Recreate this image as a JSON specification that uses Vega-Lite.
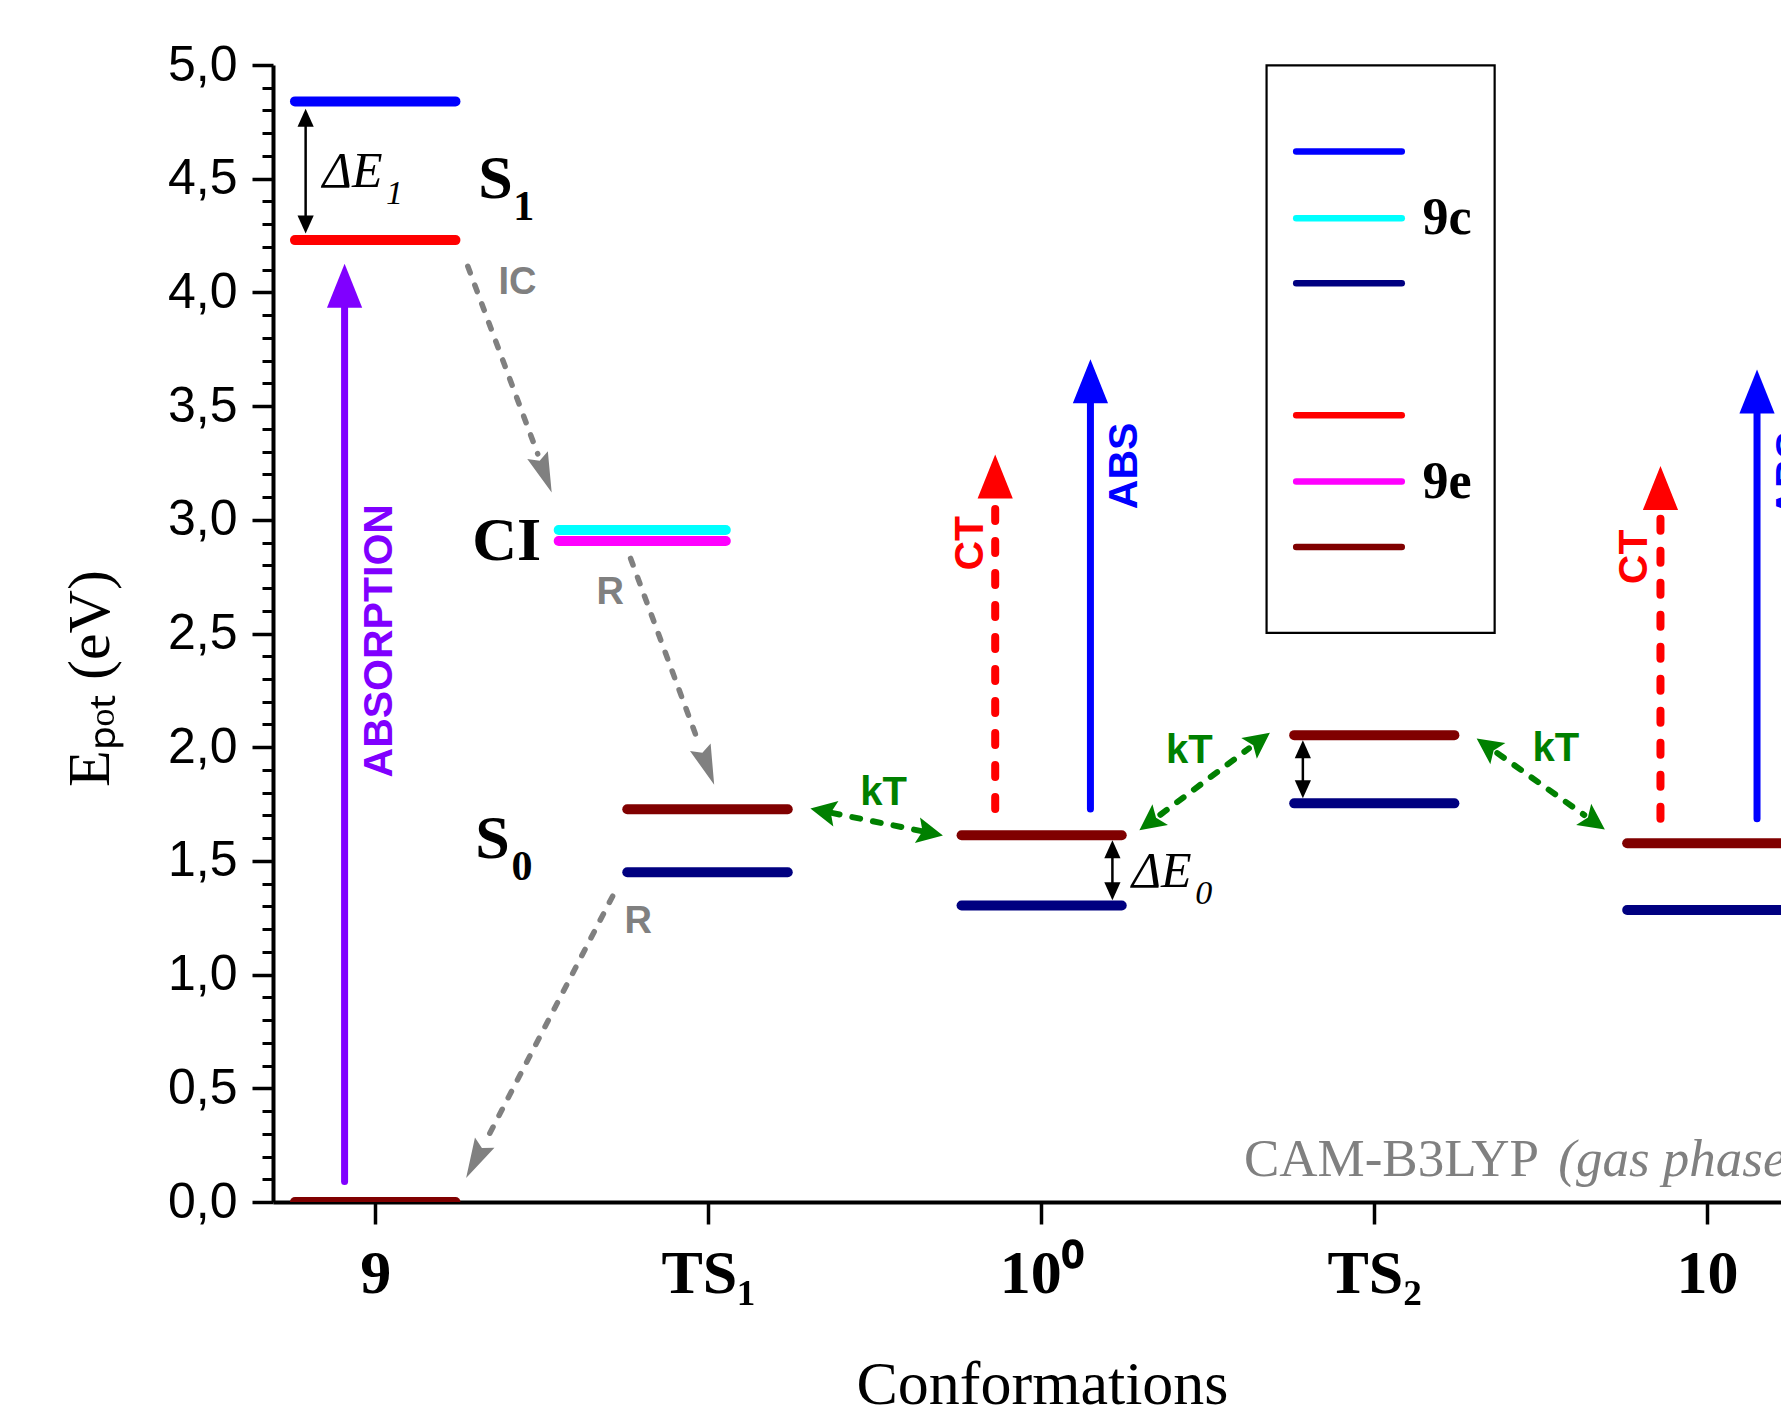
{
  "$schema": "https://vega.github.io/schema/vega-lite/v6.json",
  "width": 1508,
  "height": 1137,
  "autosize": {"type": "none"},
  "padding": {"left": 273, "top": 65, "right": 0, "bottom": 210},
  "background": "white",
  "config": {"view": {"stroke": null}, "axis": {"zindex": 1, "grid": false}},
  "resolve": {"axis": {"x": "independent", "y": "independent"}},
  "datasets": {
    "levels": [
      {"conf": "9", "state": "9c S1", "x1": 0.759, "x2": 1.241, "e": 4.84},
      {"conf": "9", "state": "9e S1", "x1": 0.759, "x2": 1.241, "e": 4.23},
      {"conf": "9", "state": "9e S0", "x1": 0.759, "x2": 1.241, "e": 0.0},
      {"conf": "CI", "state": "9c CI", "x1": 1.551, "x2": 2.053, "e": 2.955},
      {"conf": "CI", "state": "9e CI", "x1": 1.551, "x2": 2.053, "e": 2.907},
      {"conf": "TS1", "state": "9e S0", "x1": 1.757, "x2": 2.239, "e": 1.727},
      {"conf": "TS1", "state": "9c S0", "x1": 1.757, "x2": 2.239, "e": 1.45},
      {"conf": "10o", "state": "9e S0", "x1": 2.761, "x2": 3.242, "e": 1.613},
      {"conf": "10o", "state": "9c S0", "x1": 2.761, "x2": 3.242, "e": 1.304},
      {"conf": "TS2", "state": "9e S0", "x1": 3.76, "x2": 4.241, "e": 2.053},
      {"conf": "TS2", "state": "9c S0", "x1": 3.76, "x2": 4.241, "e": 1.753},
      {"conf": "10", "state": "9e S0", "x1": 4.76, "x2": 5.24, "e": 1.578},
      {"conf": "10", "state": "9c S0", "x1": 4.76, "x2": 5.24, "e": 1.284}
    ],
    "legendBox": [{"x1": 3.677, "x2": 4.362, "y1": 2.503, "y2": 4.998}],
    "legendLines": [
      {"state": "9c S1", "y": 4.62},
      {"state": "9c CI", "y": 4.326},
      {"state": "9c S0", "y": 4.04},
      {"state": "9e S1", "y": 3.46},
      {"state": "9e CI", "y": 3.168},
      {"state": "9e S0", "y": 2.88}
    ],
    "legendLabels": [
      {"t": "9c", "x": 4.145, "y": 4.326},
      {"t": "9e", "x": 4.145, "y": 3.168}
    ],
    "solidShafts": [
      {"kind": "absorption", "x": 0.908, "y": 0.09, "y2": 3.96},
      {"kind": "abs", "x": 3.148, "y": 1.728, "y2": 3.53},
      {"kind": "abs", "x": 5.15, "y": 1.685, "y2": 3.49}
    ],
    "ctShafts": [
      {"kind": "ct", "x": 2.862, "y": 1.728, "y2": 3.12},
      {"kind": "ct", "x": 4.86, "y": 1.685, "y2": 3.07}
    ],
    "bigHeads": [
      {"kind": "absorption", "x": 0.908, "y": 4.126},
      {"kind": "abs", "x": 3.148, "y": 3.706},
      {"kind": "abs", "x": 5.15, "y": 3.661},
      {"kind": "ct", "x": 2.862, "y": 3.287},
      {"kind": "ct", "x": 4.86, "y": 3.237}
    ],
    "grayShafts": [
      {"path": "IC", "x": 1.278, "y": 4.115, "x2": 1.488, "y2": 3.29},
      {"path": "R1", "x": 1.767, "y": 2.83, "x2": 1.975, "y2": 2.005},
      {"path": "R2", "x": 1.713, "y": 1.345, "x2": 1.332, "y2": 0.268}
    ],
    "grayHeads": [
      {"path": "IC", "x": 1.53, "y": 3.12, "deg": 159.3},
      {"path": "R1", "x": 2.018, "y": 1.835, "deg": 159.7},
      {"path": "R2", "x": 1.273, "y": 0.105, "deg": 207.7}
    ],
    "greenShafts": [
      {"path": "kT1", "x": 2.371, "y": 1.711, "x2": 2.641, "y2": 1.631},
      {"path": "kT2", "x": 3.358, "y": 1.703, "x2": 3.624, "y2": 1.995},
      {"path": "kT3", "x": 4.37, "y": 1.974, "x2": 4.631, "y2": 1.702}
    ],
    "greenHeads": [
      {"path": "kT1", "x": 2.307, "y": 1.73, "deg": 281.4},
      {"path": "kT1", "x": 2.705, "y": 1.612, "deg": 101.4},
      {"path": "kT2", "x": 3.295, "y": 1.635, "deg": 233.3},
      {"path": "kT2", "x": 3.687, "y": 2.063, "deg": 53.3},
      {"path": "kT3", "x": 4.308, "y": 2.038, "deg": 305.4},
      {"path": "kT3", "x": 4.693, "y": 1.638, "deg": 125.4}
    ],
    "blackShafts": [
      {"gap": "dE1", "x": 0.791, "y": 4.29, "y2": 4.78},
      {"gap": "dE0", "x": 3.214, "y": 1.36, "y2": 1.56},
      {"gap": "TS2", "x": 3.786, "y": 1.8, "y2": 2.0}
    ],
    "blackHeads": [
      {"gap": "dE1", "x": 0.791, "y": 4.808, "deg": 0},
      {"gap": "dE1", "x": 0.791, "y": 4.259, "deg": 180},
      {"gap": "dE0", "x": 3.214, "y": 1.591, "deg": 0},
      {"gap": "dE0", "x": 3.214, "y": 1.327, "deg": 180},
      {"gap": "TS2", "x": 3.786, "y": 2.031, "deg": 0},
      {"gap": "TS2", "x": 3.786, "y": 1.775, "deg": 180}
    ],
    "stateMain": [
      {"t": "S", "x": 1.361, "y": 4.417},
      {"t": "CI", "x": 1.395, "y": 2.822},
      {"t": "S", "x": 1.352, "y": 1.512}
    ],
    "stateSub": [
      {"t": "1", "x": 1.446, "y": 4.317},
      {"t": "0", "x": 1.441, "y": 1.415}
    ],
    "deltaMain": [
      {"t": "ΔE", "x": 0.842, "y": 4.463},
      {"t": "ΔE", "x": 3.272, "y": 1.385}
    ],
    "deltaSub": [
      {"t": "1", "x": 1.058, "y": 4.387},
      {"t": "0", "x": 3.488, "y": 1.309}
    ],
    "grayLabels": [
      {"t": "IC", "x": 1.427, "y": 4.04},
      {"t": "R", "x": 1.706, "y": 2.68},
      {"t": "R", "x": 1.79, "y": 1.231}
    ],
    "kTLabels": [
      {"t": "kT", "x": 2.527, "y": 1.8},
      {"t": "kT", "x": 3.445, "y": 1.983},
      {"t": "kT", "x": 4.546, "y": 1.993}
    ],
    "vertLabels": [
      {"t": "ABSORPTION", "kind": "absorption", "x": 1.015, "y": 2.468},
      {"t": "CT", "kind": "ct", "x": 2.79, "y": 2.897},
      {"t": "ABS", "kind": "abs", "x": 3.251, "y": 3.237},
      {"t": "CT", "kind": "ct", "x": 4.785, "y": 2.837},
      {"t": "ABS", "kind": "abs", "x": 5.255, "y": 3.2}
    ],
    "methodPlain": [{"t": "CAM-B3LYP", "x": 3.609, "y": 0.115}],
    "methodItalic": [{"t": "(gas phase)", "x": 4.553, "y": 0.115}]
  },
  "layer": [
    {
      "data": {"name": "legendBox"},
      "mark": {"type": "rect", "fill": "white", "stroke": "black", "strokeWidth": 2.2},
      "encoding": {
        "x": {"field": "x1", "type": "quantitative", "scale": {"domain": [0.693, 5.222], "nice": false, "zero": false}, "axis": null},
        "x2": {"field": "x2"},
        "y": {"field": "y1", "type": "quantitative", "scale": {"domain": [0, 5], "nice": false, "zero": false}, "axis": null},
        "y2": {"field": "y2"}
      }
    },
    {
      "data": {"name": "legendLines"},
      "mark": {"type": "rule", "strokeWidth": 6.5, "strokeCap": "round"},
      "encoding": {
        "x": {"datum": 3.766, "type": "quantitative", "scale": {"domain": [0.693, 5.222], "nice": false, "zero": false}, "axis": null},
        "x2": {"datum": 4.083},
        "y": {"field": "y", "type": "quantitative", "scale": {"domain": [0, 5], "nice": false, "zero": false}, "axis": null},
        "color": {"field": "state", "type": "nominal", "legend": null,
          "scale": {"domain": ["9c S1", "9c CI", "9c S0", "9e S1", "9e CI", "9e S0", "absorption", "abs", "ct"],
                    "range": ["#0000FF", "#00FFFF", "#000080", "#FF0000", "#FF00FF", "#800000", "#8000FF", "#0000FF", "#FF0000"]}}
      }
    },
    {
      "data": {"name": "legendLabels"},
      "mark": {"type": "text", "font": "Liberation Serif", "fontWeight": "bold", "fontSize": 52, "align": "left", "baseline": "middle", "color": "black"},
      "encoding": {
        "x": {"field": "x", "type": "quantitative", "scale": {"domain": [0.693, 5.222], "nice": false, "zero": false}, "axis": null},
        "y": {"field": "y", "type": "quantitative", "scale": {"domain": [0, 5], "nice": false, "zero": false}, "axis": null},
        "text": {"field": "t"}
      }
    },
    {
      "data": {"name": "levels"},
      "mark": {"type": "rule", "strokeWidth": 10, "strokeCap": "round", "clip": true},
      "encoding": {
        "x": {"field": "x1", "type": "quantitative", "scale": {"domain": [0.693, 5.222], "nice": false, "zero": false},
          "axis": {"orient": "bottom", "values": [1, 2, 3, 4, 5],
            "labelExpr": "datum.value == 1 ? '9' : datum.value == 2 ? 'TS₁' : datum.value == 3 ? '10⁰' : datum.value == 4 ? 'TS₂' : '10'",
            "labelFont": "Liberation Serif", "labelFontSize": 62, "labelFontWeight": "bold", "labelColor": "black",
            "labelBaseline": "alphabetic", "labelPadding": 68, "labelFlush": false, "labelOverlap": false,
            "tickSize": 22, "tickWidth": 3.5, "tickColor": "black", "domainWidth": 4, "domainColor": "black",
            "title": "Conformations", "titleFont": "Liberation Serif", "titleFontSize": 62, "titleFontWeight": "normal", "titleColor": "black",
            "titleX": 769, "titleY": 201, "titleAlign": "center", "titleBaseline": "alphabetic"}},
        "x2": {"field": "x2"},
        "y": {"field": "e", "type": "quantitative", "scale": {"domain": [0, 5], "nice": false, "zero": false},
          "axis": {"orient": "left", "values": [0, 0.5, 1, 1.5, 2, 2.5, 3, 3.5, 4, 4.5, 5],
            "labelExpr": "replace(format(datum.value, '.1f'), '.', ',')",
            "labelFont": "Liberation Sans", "labelFontSize": 50, "labelColor": "black", "labelPadding": 15, "labelFlush": false, "labelOverlap": false,
            "tickSize": 21, "tickWidth": 3.5, "tickColor": "black", "domainWidth": 4, "domainColor": "black",
            "title": "Eₚₒₜ (eV)", "titleFont": "Liberation Serif", "titleFontSize": 60, "titleFontWeight": "normal", "titleColor": "black",
            "titleAngle": 270, "titleX": -183, "titleY": 613, "titleAlign": "center", "titleBaseline": "middle"}},
        "color": {"field": "state", "type": "nominal", "legend": null,
          "scale": {"domain": ["9c S1", "9c CI", "9c S0", "9e S1", "9e CI", "9e S0", "absorption", "abs", "ct"],
                    "range": ["#0000FF", "#00FFFF", "#000080", "#FF0000", "#FF00FF", "#800000", "#8000FF", "#0000FF", "#FF0000"]}}
      }
    },
    {
      "data": {"name": "solidShafts"},
      "mark": {"type": "rule", "strokeWidth": 7, "strokeCap": "round", "clip": true},
      "encoding": {
        "x": {"field": "x", "type": "quantitative", "scale": {"domain": [0.693, 5.222], "nice": false, "zero": false}, "axis": null},
        "y": {"field": "y", "type": "quantitative", "scale": {"domain": [0, 5], "nice": false, "zero": false},
          "axis": {"orient": "left", "values": [0.1, 0.2, 0.3, 0.4, 0.6, 0.7, 0.8, 0.9, 1.1, 1.2, 1.3, 1.4, 1.6, 1.7, 1.8, 1.9, 2.1, 2.2, 2.3, 2.4, 2.6, 2.7, 2.8, 2.9, 3.1, 3.2, 3.3, 3.4, 3.6, 3.7, 3.8, 3.9, 4.1, 4.2, 4.3, 4.4, 4.6, 4.7, 4.8, 4.9],
            "labels": false, "domain": false, "tickSize": 11, "tickWidth": 3, "tickColor": "black", "title": null}},
        "y2": {"field": "y2"},
        "color": {"field": "kind", "type": "nominal", "legend": null,
          "scale": {"domain": ["9c S1", "9c CI", "9c S0", "9e S1", "9e CI", "9e S0", "absorption", "abs", "ct"],
                    "range": ["#0000FF", "#00FFFF", "#000080", "#FF0000", "#FF00FF", "#800000", "#8000FF", "#0000FF", "#FF0000"]}}
      }
    },
    {
      "data": {"name": "ctShafts"},
      "mark": {"type": "rule", "strokeWidth": 8, "strokeCap": "round", "strokeDash": [12, 20], "color": "#FF0000", "clip": true},
      "encoding": {
        "x": {"field": "x", "type": "quantitative", "scale": {"domain": [0.693, 5.222], "nice": false, "zero": false}, "axis": null},
        "y": {"field": "y", "type": "quantitative", "scale": {"domain": [0, 5], "nice": false, "zero": false}, "axis": null},
        "y2": {"field": "y2"}
      }
    },
    {
      "data": {"name": "grayShafts"},
      "mark": {"type": "rule", "strokeWidth": 5.5, "strokeCap": "round", "strokeDash": [7, 13], "color": "#808080"},
      "encoding": {
        "x": {"field": "x", "type": "quantitative", "scale": {"domain": [0.693, 5.222], "nice": false, "zero": false}, "axis": null},
        "y": {"field": "y", "type": "quantitative", "scale": {"domain": [0, 5], "nice": false, "zero": false}, "axis": null},
        "x2": {"field": "x2"},
        "y2": {"field": "y2"}
      }
    },
    {
      "data": {"name": "greenShafts"},
      "mark": {"type": "rule", "strokeWidth": 6, "strokeCap": "round", "strokeDash": [8, 13], "color": "#008000"},
      "encoding": {
        "x": {"field": "x", "type": "quantitative", "scale": {"domain": [0.693, 5.222], "nice": false, "zero": false}, "axis": null},
        "y": {"field": "y", "type": "quantitative", "scale": {"domain": [0, 5], "nice": false, "zero": false}, "axis": null},
        "x2": {"field": "x2"},
        "y2": {"field": "y2"}
      }
    },
    {
      "data": {"name": "blackShafts"},
      "mark": {"type": "rule", "strokeWidth": 2.5, "color": "black"},
      "encoding": {
        "x": {"field": "x", "type": "quantitative", "scale": {"domain": [0.693, 5.222], "nice": false, "zero": false}, "axis": null},
        "y": {"field": "y", "type": "quantitative", "scale": {"domain": [0, 5], "nice": false, "zero": false}, "axis": null},
        "y2": {"field": "y2"}
      }
    },
    {
      "data": {"name": "bigHeads"},
      "mark": {"type": "point", "shape": "M0,0L0.8,2L-0.8,2Z", "size": 1936, "filled": true, "opacity": 1, "strokeWidth": 0, "clip": true},
      "encoding": {
        "x": {"field": "x", "type": "quantitative", "scale": {"domain": [0.693, 5.222], "nice": false, "zero": false}, "axis": null},
        "y": {"field": "y", "type": "quantitative", "scale": {"domain": [0, 5], "nice": false, "zero": false}, "axis": null},
        "color": {"field": "kind", "type": "nominal", "legend": null,
          "scale": {"domain": ["9c S1", "9c CI", "9c S0", "9e S1", "9e CI", "9e S0", "absorption", "abs", "ct"],
                    "range": ["#0000FF", "#00FFFF", "#000080", "#FF0000", "#FF00FF", "#800000", "#8000FF", "#0000FF", "#FF0000"]}}
      }
    },
    {
      "data": {"name": "grayHeads"},
      "mark": {"type": "point", "shape": "M0,0L0.55,2L0,1.7L-0.55,2Z", "size": 1600, "filled": true, "opacity": 1, "strokeWidth": 0, "color": "#808080"},
      "encoding": {
        "x": {"field": "x", "type": "quantitative", "scale": {"domain": [0.693, 5.222], "nice": false, "zero": false}, "axis": null},
        "y": {"field": "y", "type": "quantitative", "scale": {"domain": [0, 5], "nice": false, "zero": false}, "axis": null},
        "angle": {"field": "deg", "type": "quantitative", "scale": null}
      }
    },
    {
      "data": {"name": "greenHeads"},
      "mark": {"type": "point", "shape": "M0,0L1,2L0,1.6L-1,2Z", "size": 676, "filled": true, "opacity": 1, "strokeWidth": 0, "color": "#008000"},
      "encoding": {
        "x": {"field": "x", "type": "quantitative", "scale": {"domain": [0.693, 5.222], "nice": false, "zero": false}, "axis": null},
        "y": {"field": "y", "type": "quantitative", "scale": {"domain": [0, 5], "nice": false, "zero": false}, "axis": null},
        "angle": {"field": "deg", "type": "quantitative", "scale": null}
      }
    },
    {
      "data": {"name": "blackHeads"},
      "mark": {"type": "point", "shape": "M0,0L0.9,2L-0.9,2Z", "size": 324, "filled": true, "opacity": 1, "strokeWidth": 0, "color": "black"},
      "encoding": {
        "x": {"field": "x", "type": "quantitative", "scale": {"domain": [0.693, 5.222], "nice": false, "zero": false}, "axis": null},
        "y": {"field": "y", "type": "quantitative", "scale": {"domain": [0, 5], "nice": false, "zero": false}, "axis": null},
        "angle": {"field": "deg", "type": "quantitative", "scale": null}
      }
    },
    {
      "data": {"name": "stateMain"},
      "mark": {"type": "text", "font": "Liberation Serif", "fontWeight": "bold", "fontSize": 62, "align": "center", "baseline": "alphabetic", "color": "black"},
      "encoding": {
        "x": {"field": "x", "type": "quantitative", "scale": {"domain": [0.693, 5.222], "nice": false, "zero": false}, "axis": null},
        "y": {"field": "y", "type": "quantitative", "scale": {"domain": [0, 5], "nice": false, "zero": false}, "axis": null},
        "text": {"field": "t"}
      }
    },
    {
      "data": {"name": "stateSub"},
      "mark": {"type": "text", "font": "Liberation Serif", "fontWeight": "bold", "fontSize": 42, "align": "center", "baseline": "alphabetic", "color": "black"},
      "encoding": {
        "x": {"field": "x", "type": "quantitative", "scale": {"domain": [0.693, 5.222], "nice": false, "zero": false}, "axis": null},
        "y": {"field": "y", "type": "quantitative", "scale": {"domain": [0, 5], "nice": false, "zero": false}, "axis": null},
        "text": {"field": "t"}
      }
    },
    {
      "data": {"name": "deltaMain"},
      "mark": {"type": "text", "font": "Liberation Serif", "fontStyle": "italic", "fontSize": 50, "align": "left", "baseline": "alphabetic", "color": "black"},
      "encoding": {
        "x": {"field": "x", "type": "quantitative", "scale": {"domain": [0.693, 5.222], "nice": false, "zero": false}, "axis": null},
        "y": {"field": "y", "type": "quantitative", "scale": {"domain": [0, 5], "nice": false, "zero": false}, "axis": null},
        "text": {"field": "t"}
      }
    },
    {
      "data": {"name": "deltaSub"},
      "mark": {"type": "text", "font": "Liberation Serif", "fontStyle": "italic", "fontSize": 34, "align": "center", "baseline": "alphabetic", "color": "black"},
      "encoding": {
        "x": {"field": "x", "type": "quantitative", "scale": {"domain": [0.693, 5.222], "nice": false, "zero": false}, "axis": null},
        "y": {"field": "y", "type": "quantitative", "scale": {"domain": [0, 5], "nice": false, "zero": false}, "axis": null},
        "text": {"field": "t"}
      }
    },
    {
      "data": {"name": "grayLabels"},
      "mark": {"type": "text", "font": "Liberation Sans", "fontWeight": "bold", "fontSize": 38, "align": "center", "baseline": "middle", "color": "#808080"},
      "encoding": {
        "x": {"field": "x", "type": "quantitative", "scale": {"domain": [0.693, 5.222], "nice": false, "zero": false}, "axis": null},
        "y": {"field": "y", "type": "quantitative", "scale": {"domain": [0, 5], "nice": false, "zero": false}, "axis": null},
        "text": {"field": "t"}
      }
    },
    {
      "data": {"name": "kTLabels"},
      "mark": {"type": "text", "font": "Liberation Sans", "fontWeight": "bold", "fontSize": 40, "align": "center", "baseline": "middle", "color": "#008000"},
      "encoding": {
        "x": {"field": "x", "type": "quantitative", "scale": {"domain": [0.693, 5.222], "nice": false, "zero": false}, "axis": null},
        "y": {"field": "y", "type": "quantitative", "scale": {"domain": [0, 5], "nice": false, "zero": false}, "axis": null},
        "text": {"field": "t"}
      }
    },
    {
      "data": {"name": "vertLabels"},
      "mark": {"type": "text", "font": "Liberation Sans", "fontWeight": "bold", "fontSize": 41, "align": "center", "baseline": "middle", "angle": 270, "clip": true},
      "encoding": {
        "x": {"field": "x", "type": "quantitative", "scale": {"domain": [0.693, 5.222], "nice": false, "zero": false}, "axis": null},
        "y": {"field": "y", "type": "quantitative", "scale": {"domain": [0, 5], "nice": false, "zero": false}, "axis": null},
        "text": {"field": "t"},
        "color": {"field": "kind", "type": "nominal", "legend": null,
          "scale": {"domain": ["9c S1", "9c CI", "9c S0", "9e S1", "9e CI", "9e S0", "absorption", "abs", "ct"],
                    "range": ["#0000FF", "#00FFFF", "#000080", "#FF0000", "#FF00FF", "#800000", "#8000FF", "#0000FF", "#FF0000"]}}
      }
    },
    {
      "data": {"name": "methodPlain"},
      "mark": {"type": "text", "font": "Liberation Serif", "fontSize": 53, "align": "left", "baseline": "alphabetic", "color": "#808080"},
      "encoding": {
        "x": {"field": "x", "type": "quantitative", "scale": {"domain": [0.693, 5.222], "nice": false, "zero": false}, "axis": null},
        "y": {"field": "y", "type": "quantitative", "scale": {"domain": [0, 5], "nice": false, "zero": false}, "axis": null},
        "text": {"field": "t"}
      }
    },
    {
      "data": {"name": "methodItalic"},
      "mark": {"type": "text", "font": "Liberation Serif", "fontStyle": "italic", "fontSize": 53, "align": "left", "baseline": "alphabetic", "color": "#808080"},
      "encoding": {
        "x": {"field": "x", "type": "quantitative", "scale": {"domain": [0.693, 5.222], "nice": false, "zero": false}, "axis": null},
        "y": {"field": "y", "type": "quantitative", "scale": {"domain": [0, 5], "nice": false, "zero": false}, "axis": null},
        "text": {"field": "t"}
      }
    }
  ]
}
